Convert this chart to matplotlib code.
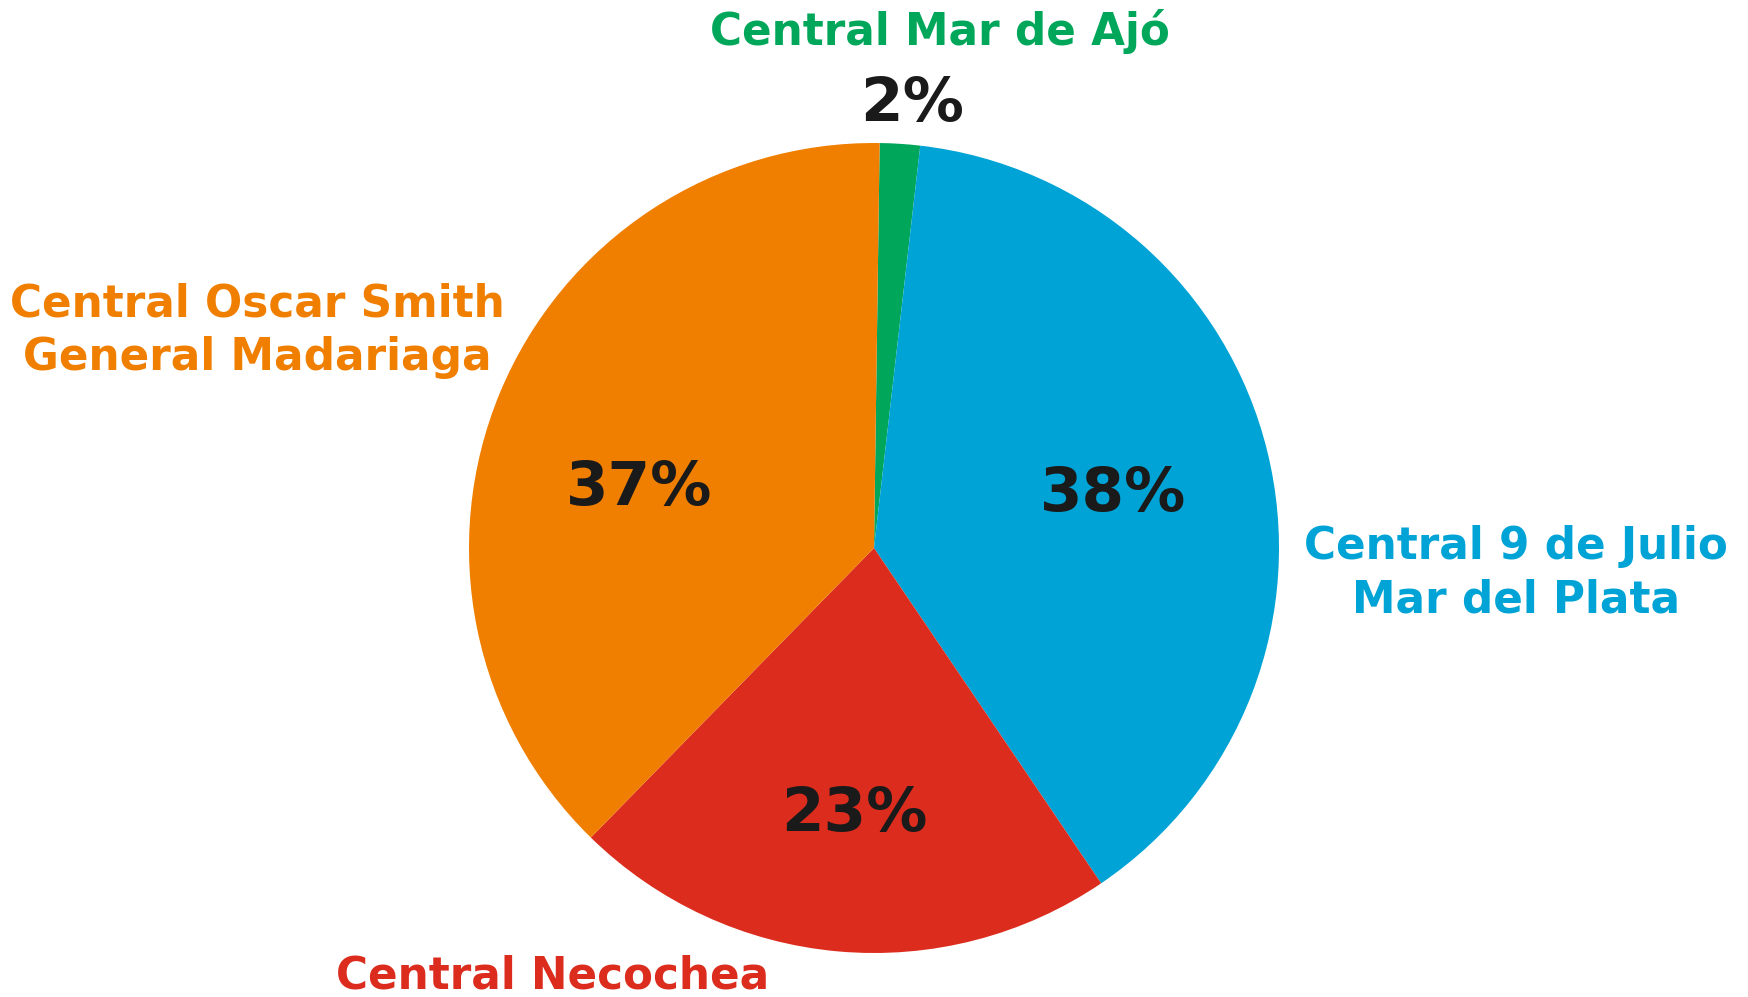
import matplotlib.pyplot as plt

plt.rcParams['font.family'] = ['DejaVu Sans']

# slice shares, clockwise from the top
centrales = ['Central Mar de Ajó', 'Central 9 de Julio\nMar del Plata',
             'Central Necochea', 'Central Oscar Smith\nGeneral Madariaga']
shares = [1.6, 38.7, 21.8, 37.9]
pct_labels = ['2%', '38%', '23%', '37%']
colors = ['#00A65A', '#00A3D5', '#DC2C1E', '#F07F00']

W, H = 1748, 997
fig = plt.figure(figsize=(W / 100, H / 100), dpi=100)
ax = fig.add_axes([0, 0, 1, 1])

cx, cy, r = 874, H - 548, 405
ax.pie(shares, colors=colors, startangle=89.2, counterclock=False,
       center=(cx, cy), radius=r, wedgeprops=dict(linewidth=0))
ax.set_xlim(0, W)
ax.set_ylim(0, H)
ax.set_aspect('equal')
ax.axis('off')

# name labels (pixel positions from the top-left)
name_pos = [(940, 31), (1516, 573), (553, 976), (257, 331)]
for name, (x, y), c in zip(centrales, name_pos, colors):
    ax.text(x, H - y, name, color=c, fontsize=31.5, fontweight='bold',
            ha='center', va='center', linespacing=1.3)

pct_pos = [(912, 104), (1113, 494), (854, 815), (639, 488)]
for lab, (x, y) in zip(pct_labels, pct_pos):
    ax.text(x, H - y, lab, color='#1a1a1a', fontsize=44, fontweight='bold',
            ha='center', va='center')

fig.savefig('out.png', dpi=100)
